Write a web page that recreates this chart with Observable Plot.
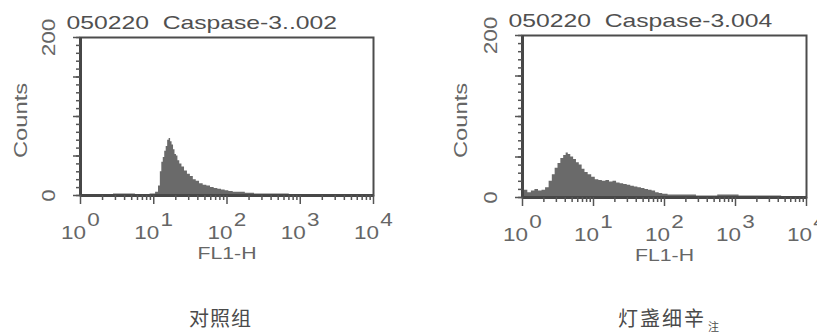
<!DOCTYPE html>
<html><head><meta charset="utf-8">
<script src="https://cdn.jsdelivr.net/npm/d3@7"></script>
<script src="https://cdn.jsdelivr.net/npm/@observablehq/plot@0.6"></script>
<style>
body{margin:0;background:#fff;}
#wrap{position:relative;width:817px;height:334px;overflow:hidden;background:#fff;}
.panel{position:absolute;top:0;}
.cap{position:absolute;font-family:"Noto Sans CJK SC",sans-serif;color:#4a4a4a;font-size:20px;line-height:20px;white-space:nowrap;}
.cap small{font-size:11px;position:relative;top:5px;margin-left:2px;}
</style></head><body><div id="wrap"></div>
<script>
// ---- data ----
// log10(FL1-H) bin positions and event counts
const leftDecade = [0.00,0.30,0.60,0.90,1.00,1.05,1.08,1.10,1.12,1.14,1.16,1.18,1.20,1.22,1.24,1.26,1.28,1.30,1.32,1.34,1.37,1.40,1.44,1.48,1.52,1.56,1.60,1.65,1.70,1.75,1.80,1.85,1.90,1.95,2.00,2.05,2.12,2.20,2.30,2.45,2.70,3.00,3.50,4.00];
const leftCount  = [1,1,2,1,2,4,12,30,42,48,56,62,70,72,68,64,58,52,50,44,40,36,31,27,24,20,18,15,13,12,10,9,8,7,6,5,4,4,3,2,2,1,1,1];
const rightDecade = [0.00,0.05,0.10,0.15,0.20,0.25,0.30,0.35,0.40,0.44,0.48,0.52,0.56,0.60,0.63,0.66,0.70,0.74,0.78,0.82,0.86,0.90,0.95,1.00,1.05,1.10,1.15,1.20,1.25,1.30,1.35,1.40,1.45,1.50,1.55,1.60,1.65,1.70,1.75,1.80,1.85,1.90,1.95,2.00,2.10,2.30,2.60,2.90,3.20,3.50,3.80,4.00];
const rightCount  = [7,9,6,8,10,8,9,12,20,28,36,42,48,52,55,53,50,47,43,40,35,31,28,25,22,21,20,21,19,20,18,17,16,15,14,13,12,11,10,9,8,6,5,4,3,3,2,3,2,2,1,1];
const xDecadeTicks = [0,1,2,3,4];
const yLabelTicks = [0,200];
const titles = ["050220\u00a0\u00a0Caspase-3..002", "050220\u00a0\u00a0Caspase-3.004"];
const xLabel = "FL1-H";
const yLabel = "Counts";
const captions = ["对照组", "灯盏细辛"];
const captionTail = "注";

const wrap = document.getElementById("wrap");
const ink = "#555";

function panel({dec, cnt, title, left, width, mL, mR, mT, bottom, height, countsX}) {
  const data = dec.map((d, i) => ({v: 10 ** d, c: cnt[i]}));
  const xMinor = [];
  for (let k = 0; k < 4; k++) for (let m = 2; m <= 9; m++) xMinor.push(m * 10 ** k);
  const yMinor = d3.range(0, 201, 10);
  const yMajor = d3.range(0, 201, 50);
  const none = () => "";
  const svg = Plot.plot({
    width, height,
    marginLeft: mL, marginRight: mR, marginTop: mT, marginBottom: height - bottom,
    x: {type: "log", domain: [1, 1e4], axis: null},
    y: {domain: [0, 200], axis: null},
    style: {background: "transparent", fontFamily: "'Liberation Sans', Arial, sans-serif", color: ink, overflow: "visible"},
    marks: [
      Plot.areaY(data, {x: "v", y: "c", curve: "step", fill: "#6a6a6a"}),
      Plot.frame({stroke: "#4c4c4c", strokeWidth: 2}),
      Plot.ruleY([0], {stroke: "#474747", strokeWidth: 3}),
      Plot.ruleX([1], {stroke: "#474747", strokeWidth: 3}),
      Plot.axisY(yMinor, {tickSize: 4, tickFormat: none, label: null, stroke: ink, strokeWidth: 1.5}),
      Plot.axisY(yMajor, {tickSize: 7, tickFormat: none, label: null, stroke: ink, strokeWidth: 1.5}),
      Plot.axisX(xMinor, {tickSize: 5, tickFormat: none, label: null, stroke: ink, strokeWidth: 1.5}),
      Plot.axisX(xDecadeTicks.map(d => 10 ** d), {tickSize: 9, tickFormat: none, label: null, stroke: ink, strokeWidth: 1.5}),
      Plot.text(xDecadeTicks, {x: d => 10 ** d, text: () => "10", frameAnchor: "bottom", lineAnchor: "bottom", dy: 43, dx: -7, fontSize: 18, fill: "#666"}),
      Plot.text(xDecadeTicks, {x: d => 10 ** d, text: d => String(d), frameAnchor: "bottom", lineAnchor: "bottom", dy: 30, dx: 13, fontSize: 18, fill: "#666"}),
      Plot.text(yLabelTicks, {y: d => d, text: d => String(d), frameAnchor: "left", textAnchor: "middle", dx: -31, rotate: -90, fontSize: 18, fill: "#666"}),
      Plot.text([yLabel], {frameAnchor: "left", textAnchor: "middle", dx: countsX - mL, dy: 4, rotate: -90, fontSize: 19, fill: "#666"}),
      Plot.text([xLabel], {frameAnchor: "bottom", lineAnchor: "bottom", dy: 63, fontSize: 17, fill: "#666"}),
      Plot.text([title], {frameAnchor: "top-left", textAnchor: "start", lineAnchor: "bottom", dx: -14, dy: -9, fontSize: 19, fill: "#505050"})
    ]
  });
  svg.classList.add("panel");
  svg.style.left = left + "px";
  wrap.appendChild(svg);
  // horizontal stretch of the scanned lettering, keeping centred labels centred
  svg.querySelectorAll("text").forEach(t => {
    if (!t.textContent.trim()) return;
    const L = t.getComputedTextLength();
    if (!(L > 0)) return;
    const f = t.textContent.length > 8 ? 1.3 : 1.25;
    const anchor = getComputedStyle(t).textAnchor;
    t.setAttribute("textLength", (L * f).toFixed(1));
    t.setAttribute("lengthAdjust", "spacingAndGlyphs");
    if (anchor === "middle") {
      const x0 = parseFloat(t.getAttribute("x")) || 0;
      t.setAttribute("text-anchor", "start");
      t.style.textAnchor = "start";
      t.setAttribute("x", (x0 - L * f / 2).toFixed(1));
    }
  });
}

panel({dec: leftDecade, cnt: leftCount, title: titles[0], left: 0, width: 408, mL: 80, mR: 35, mT: 37, bottom: 195, height: 280, countsX: 20});
panel({dec: rightDecade, cnt: rightCount, title: titles[1], left: 408, width: 409, mL: 114, mR: 11, mT: 35, bottom: 197, height: 280, countsX: 52});

const c1 = document.createElement("div");
c1.className = "cap"; c1.textContent = captions[0];
c1.style.left = "189px"; c1.style.top = "308px"; c1.style.letterSpacing = "1px";
wrap.appendChild(c1);
const c2 = document.createElement("div");
c2.className = "cap";
c2.innerHTML = captions[1] + "<small>" + captionTail + "</small>";
c2.style.left = "618px"; c2.style.top = "308px"; c2.style.letterSpacing = "2px";
wrap.appendChild(c2);
</script>
</body></html>
